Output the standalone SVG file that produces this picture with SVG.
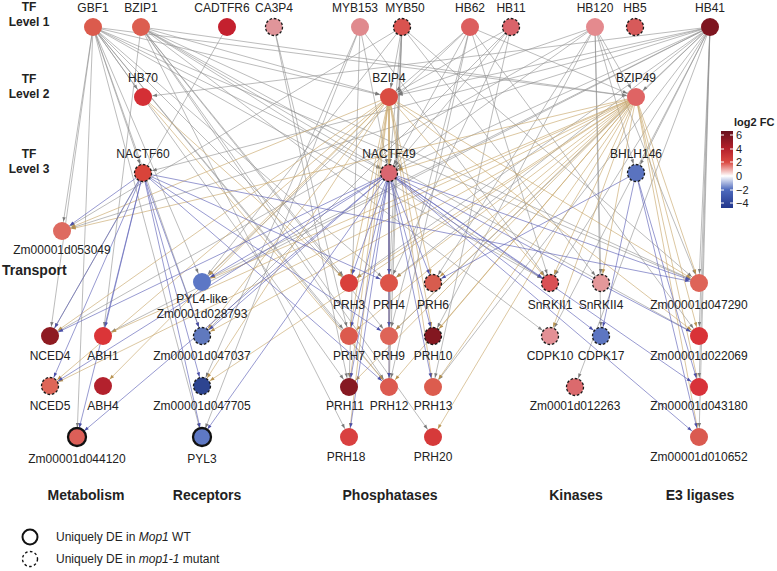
<svg xmlns="http://www.w3.org/2000/svg" width="777" height="571" viewBox="0 0 777 571">
<style>
text{font-family:"Liberation Sans",Arial,sans-serif;fill:#222}
.lb{font-size:12px;text-anchor:middle}
.grp{font-size:14px;font-weight:bold;text-anchor:middle}
.tf{font-size:12px;font-weight:bold;text-anchor:middle}
.g line{stroke:#8e8e8e;stroke-width:0.6;marker-end:url(#ag)}
.t line{stroke:#c9a86e;stroke-width:0.65;marker-end:url(#at)}
.b line{stroke:#6063b8;stroke-width:0.65;marker-end:url(#ab)}
.n{stroke:none}
.d{stroke:#1a1a1a;stroke-width:1.3;stroke-dasharray:2.6 1.8}
.s{stroke:#111;stroke-width:2.3}
</style>
<defs>
<marker id="ag" markerUnits="userSpaceOnUse" markerWidth="4.5" markerHeight="3.4" refX="14" refY="1.7" orient="auto" overflow="visible"><path d="M0,0L4.5,1.7L0,3.4z" fill="#7a7a7a"/></marker>
<marker id="at" markerUnits="userSpaceOnUse" markerWidth="4.5" markerHeight="3.4" refX="14" refY="1.7" orient="auto" overflow="visible"><path d="M0,0L4.5,1.7L0,3.4z" fill="#b8924f"/></marker>
<marker id="ab" markerUnits="userSpaceOnUse" markerWidth="4.5" markerHeight="3.4" refX="14" refY="1.7" orient="auto" overflow="visible"><path d="M0,0L4.5,1.7L0,3.4z" fill="#4a4fa8"/></marker>
<linearGradient id="cb" x1="0" y1="0" x2="0" y2="1">
<stop offset="0" stop-color="#67101c"/>
<stop offset="0.23" stop-color="#b5202a"/>
<stop offset="0.407" stop-color="#db4a42"/>
<stop offset="0.584" stop-color="#ffffff"/>
<stop offset="0.761" stop-color="#4f6bbe"/>
<stop offset="1" stop-color="#22368c"/>
</linearGradient>
</defs>
<rect width="777" height="571" fill="#fff"/>

<g id="connectors">
<g class="g">
<line x1="93" y1="27" x2="143" y2="97"/><line x1="93" y1="27" x2="143" y2="173"/><line x1="93" y1="27" x2="389" y2="97"/><line x1="93" y1="27" x2="389" y2="173"/><line x1="93" y1="27" x2="636" y2="97"/><line x1="93" y1="27" x2="62" y2="231"/><line x1="93" y1="27" x2="50" y2="336"/><line x1="93" y1="27" x2="202" y2="282"/><line x1="93" y1="27" x2="202" y2="336"/><line x1="93" y1="27" x2="202" y2="437"/><line x1="93" y1="27" x2="349" y2="283"/><line x1="93" y1="27" x2="349" y2="336"/><line x1="93" y1="27" x2="349" y2="387"/><line x1="93" y1="27" x2="389" y2="387"/><line x1="93" y1="27" x2="389" y2="283"/><line x1="93" y1="27" x2="550" y2="283"/><line x1="93" y1="27" x2="699" y2="283"/><line x1="93" y1="27" x2="77" y2="437"/>
<line x1="141" y1="27" x2="389" y2="97"/><line x1="141" y1="27" x2="636" y2="97"/><line x1="141" y1="27" x2="389" y2="173"/><line x1="141" y1="27" x2="103" y2="336"/><line x1="141" y1="27" x2="349" y2="283"/><line x1="141" y1="27" x2="389" y2="336"/><line x1="141" y1="27" x2="389" y2="387"/><line x1="141" y1="27" x2="349" y2="437"/><line x1="141" y1="27" x2="550" y2="283"/><line x1="141" y1="27" x2="550" y2="336"/><line x1="141" y1="27" x2="699" y2="283"/><line x1="141" y1="27" x2="699" y2="336"/><line x1="141" y1="27" x2="433" y2="437"/>
<line x1="227" y1="27" x2="50" y2="336"/>
<line x1="274" y1="27" x2="349" y2="336"/><line x1="274" y1="27" x2="349" y2="387"/>
<line x1="360" y1="27" x2="202" y2="437"/><line x1="360" y1="27" x2="202" y2="386"/><line x1="360" y1="27" x2="349" y2="387"/><line x1="360" y1="27" x2="389" y2="173"/><line x1="360" y1="27" x2="550" y2="283"/>
<line x1="402" y1="27" x2="389" y2="97"/><line x1="402" y1="27" x2="389" y2="173"/><line x1="402" y1="27" x2="389" y2="283"/><line x1="402" y1="27" x2="389" y2="336"/><line x1="402" y1="27" x2="389" y2="387"/><line x1="402" y1="27" x2="62" y2="231"/><line x1="402" y1="27" x2="202" y2="282"/><line x1="402" y1="27" x2="601" y2="283"/><line x1="402" y1="27" x2="699" y2="283"/>
<line x1="470" y1="27" x2="389" y2="97"/><line x1="470" y1="27" x2="389" y2="173"/><line x1="470" y1="27" x2="389" y2="336"/><line x1="470" y1="27" x2="389" y2="387"/><line x1="470" y1="27" x2="202" y2="282"/><line x1="470" y1="27" x2="636" y2="97"/><line x1="470" y1="27" x2="550" y2="283"/><line x1="470" y1="27" x2="699" y2="336"/>
<line x1="511" y1="27" x2="389" y2="97"/><line x1="511" y1="27" x2="389" y2="173"/><line x1="511" y1="27" x2="389" y2="283"/><line x1="511" y1="27" x2="433" y2="387"/><line x1="511" y1="27" x2="202" y2="336"/>
<line x1="595" y1="27" x2="636" y2="97"/><line x1="595" y1="27" x2="636" y2="173"/><line x1="595" y1="27" x2="601" y2="336"/><line x1="595" y1="27" x2="601" y2="283"/><line x1="595" y1="27" x2="389" y2="97"/><line x1="595" y1="27" x2="389" y2="173"/><line x1="595" y1="27" x2="433" y2="283"/><line x1="595" y1="27" x2="433" y2="336"/><line x1="595" y1="27" x2="699" y2="283"/><line x1="595" y1="27" x2="50" y2="336"/>
<line x1="710" y1="27" x2="636" y2="97"/><line x1="710" y1="27" x2="389" y2="97"/><line x1="710" y1="27" x2="389" y2="173"/><line x1="710" y1="27" x2="636" y2="173"/><line x1="710" y1="27" x2="699" y2="283"/><line x1="710" y1="27" x2="699" y2="336"/><line x1="710" y1="27" x2="699" y2="387"/><line x1="710" y1="27" x2="699" y2="437"/><line x1="710" y1="27" x2="143" y2="173"/><line x1="710" y1="27" x2="143" y2="97"/><line x1="710" y1="27" x2="62" y2="231"/><line x1="710" y1="27" x2="202" y2="282"/><line x1="710" y1="27" x2="349" y2="283"/><line x1="710" y1="27" x2="389" y2="283"/><line x1="710" y1="27" x2="389" y2="336"/><line x1="710" y1="27" x2="433" y2="387"/><line x1="710" y1="27" x2="550" y2="283"/><line x1="710" y1="27" x2="550" y2="336"/><line x1="710" y1="27" x2="575" y2="387"/><line x1="710" y1="27" x2="103" y2="336"/>
</g>
<g class="t">
<line x1="143" y1="97" x2="349" y2="283"/><line x1="143" y1="97" x2="389" y2="387"/>
<line x1="389" y1="97" x2="389" y2="173"/><line x1="389" y1="97" x2="62" y2="231"/><line x1="389" y1="97" x2="50" y2="336"/><line x1="389" y1="97" x2="50" y2="386"/><line x1="389" y1="97" x2="202" y2="282"/><line x1="389" y1="97" x2="202" y2="336"/><line x1="389" y1="97" x2="202" y2="386"/><line x1="389" y1="97" x2="349" y2="283"/><line x1="389" y1="97" x2="389" y2="283"/><line x1="389" y1="97" x2="433" y2="283"/><line x1="389" y1="97" x2="349" y2="336"/><line x1="389" y1="97" x2="389" y2="336"/><line x1="389" y1="97" x2="433" y2="336"/><line x1="389" y1="97" x2="349" y2="387"/><line x1="389" y1="97" x2="389" y2="387"/><line x1="389" y1="97" x2="433" y2="387"/><line x1="389" y1="97" x2="349" y2="437"/><line x1="389" y1="97" x2="550" y2="283"/><line x1="389" y1="97" x2="699" y2="283"/><line x1="389" y1="97" x2="699" y2="336"/><line x1="389" y1="97" x2="103" y2="386"/>
<line x1="636" y1="97" x2="389" y2="173"/><line x1="636" y1="97" x2="62" y2="231"/><line x1="636" y1="97" x2="202" y2="282"/><line x1="636" y1="97" x2="202" y2="336"/><line x1="636" y1="97" x2="202" y2="386"/><line x1="636" y1="97" x2="349" y2="283"/><line x1="636" y1="97" x2="389" y2="283"/><line x1="636" y1="97" x2="433" y2="283"/><line x1="636" y1="97" x2="349" y2="336"/><line x1="636" y1="97" x2="389" y2="336"/><line x1="636" y1="97" x2="433" y2="336"/><line x1="636" y1="97" x2="349" y2="387"/><line x1="636" y1="97" x2="389" y2="387"/><line x1="636" y1="97" x2="433" y2="387"/><line x1="636" y1="97" x2="433" y2="437"/><line x1="636" y1="97" x2="550" y2="283"/><line x1="636" y1="97" x2="601" y2="283"/><line x1="636" y1="97" x2="550" y2="336"/><line x1="636" y1="97" x2="699" y2="283"/><line x1="636" y1="97" x2="699" y2="336"/><line x1="636" y1="97" x2="699" y2="387"/><line x1="636" y1="97" x2="699" y2="437"/><line x1="636" y1="97" x2="50" y2="386"/><line x1="636" y1="97" x2="103" y2="336"/>
</g>
<g class="b">
<line x1="143" y1="173" x2="62" y2="231"/><line x1="143" y1="173" x2="50" y2="336"/><line x1="143" y1="173" x2="103" y2="336"/><line x1="143" y1="173" x2="50" y2="386"/><line x1="143" y1="173" x2="77" y2="437"/><line x1="143" y1="173" x2="202" y2="437"/><line x1="143" y1="173" x2="202" y2="336"/><line x1="143" y1="173" x2="389" y2="283"/><line x1="143" y1="173" x2="389" y2="336"/><line x1="143" y1="173" x2="699" y2="283"/><line x1="143" y1="173" x2="389" y2="387"/><line x1="143" y1="173" x2="202" y2="386"/>
<line x1="389" y1="173" x2="50" y2="336"/><line x1="389" y1="173" x2="50" y2="386"/><line x1="389" y1="173" x2="77" y2="437"/><line x1="389" y1="173" x2="202" y2="282"/><line x1="389" y1="173" x2="202" y2="336"/><line x1="389" y1="173" x2="202" y2="437"/><line x1="389" y1="173" x2="349" y2="283"/><line x1="389" y1="173" x2="389" y2="283"/><line x1="389" y1="173" x2="433" y2="283"/><line x1="389" y1="173" x2="349" y2="336"/><line x1="389" y1="173" x2="389" y2="336"/><line x1="389" y1="173" x2="433" y2="336"/><line x1="389" y1="173" x2="349" y2="387"/><line x1="389" y1="173" x2="389" y2="387"/><line x1="389" y1="173" x2="433" y2="387"/><line x1="389" y1="173" x2="349" y2="437"/><line x1="389" y1="173" x2="550" y2="283"/><line x1="389" y1="173" x2="601" y2="336"/><line x1="389" y1="173" x2="699" y2="283"/><line x1="389" y1="173" x2="699" y2="336"/><line x1="389" y1="173" x2="699" y2="387"/><line x1="389" y1="173" x2="699" y2="437"/>
<line x1="636" y1="173" x2="433" y2="283"/><line x1="636" y1="173" x2="699" y2="387"/><line x1="636" y1="173" x2="601" y2="336"/><line x1="636" y1="173" x2="699" y2="437"/>
</g>
</g>

<g id="row-labels">
<text class="tf" x="29" y="11">TF</text><text class="tf" x="29" y="26">Level 1</text>
<text class="tf" x="29" y="83">TF</text><text class="tf" x="29" y="98">Level 2</text>
<text class="tf" x="29" y="158">TF</text><text class="tf" x="29" y="173">Level 3</text>
</g>

<g id="nodes">
<g id="GBF1"><circle class="n" cx="93" cy="27" r="9" fill="#db5b4d"/><text class="lb" x="93" y="12">GBF1</text></g>
<g id="BZIP1"><circle class="n" cx="141" cy="27" r="9" fill="#dc5e50"/><text class="lb" x="141" y="12">BZIP1</text></g>
<g id="CADTFR6"><circle class="n" cx="227" cy="27" r="9" fill="#c4202e"/><text class="lb" x="222" y="12">CADTFR6</text></g>
<g id="CA3P4"><circle class="d" cx="274" cy="27" r="8.5" fill="#e0959a"/><text class="lb" x="274" y="12">CA3P4</text></g>
<g id="MYB153"><circle class="n" cx="360" cy="27" r="9" fill="#e08a8e"/><text class="lb" x="355" y="12">MYB153</text></g>
<g id="MYB50"><circle class="d" cx="402" cy="27" r="8.5" fill="#d9534f"/><text class="lb" x="405" y="12">MYB50</text></g>
<g id="HB62"><circle class="n" cx="470" cy="27" r="9" fill="#dc5e5e"/><text class="lb" x="470" y="12">HB62</text></g>
<g id="HB11"><circle class="d" cx="511" cy="27" r="8.5" fill="#d9636a"/><text class="lb" x="511" y="12">HB11</text></g>
<g id="HB120"><circle class="n" cx="595" cy="27" r="9" fill="#e48a8e"/><text class="lb" x="595" y="12">HB120</text></g>
<g id="HB5"><circle class="d" cx="635" cy="27" r="8.5" fill="#d75a5a"/><text class="lb" x="635" y="12">HB5</text></g>
<g id="HB41"><circle class="n" cx="710" cy="27" r="9" fill="#7e1520"/><text class="lb" x="710" y="12">HB41</text></g>

<g id="HB70"><circle class="n" cx="143" cy="97" r="9" fill="#d42f35"/><text class="lb" x="143" y="82">HB70</text></g>
<g id="BZIP4"><circle class="n" cx="389" cy="97" r="9" fill="#da4c42"/><text class="lb" x="389" y="82">BZIP4</text></g>
<g id="BZIP49"><circle class="n" cx="636" cy="97" r="9" fill="#df6464"/><text class="lb" x="636" y="82">BZIP49</text></g>

<g id="NACTF60"><circle class="d" cx="143" cy="173" r="8.5" fill="#d9443a"/><text class="lb" x="143" y="158">NACTF60</text></g>
<g id="NACTF49"><circle class="d" cx="389" cy="173" r="8.5" fill="#d96670"/><text class="lb" x="389" y="158">NACTF49</text></g>
<g id="BHLH146"><circle class="d" cx="636" cy="173" r="8.5" fill="#5a73bf"/><text class="lb" x="636" y="158">BHLH146</text></g>

<g id="Zm00001d053049"><circle class="n" cx="62" cy="231" r="9" fill="#de6a60"/><text class="lb" x="62" y="254">Zm00001d053049</text></g>
<g id="PYL4-like"><circle class="n" cx="202" cy="282" r="9" fill="#5c77c5"/><text class="lb" x="202" y="303">PYL4-like</text><text class="lb" x="202" y="318">Zm0001d028793</text></g>
<g id="NCED4"><circle class="n" cx="50" cy="336" r="9" fill="#8e1b22"/><text class="lb" x="50" y="360">NCED4</text></g>
<g id="ABH1"><circle class="n" cx="103" cy="336" r="9" fill="#db3538"/><text class="lb" x="103" y="360">ABH1</text></g>
<g id="Zm00001d047037"><circle class="d" cx="202" cy="336" r="8.5" fill="#6079be"/><text class="lb" x="202" y="360">Zm00001d047037</text></g>
<g id="NCED5"><circle class="d" cx="50" cy="386" r="8.5" fill="#de6658"/><text class="lb" x="50" y="410">NCED5</text></g>
<g id="ABH4"><circle class="n" cx="103" cy="386" r="9" fill="#b3212d"/><text class="lb" x="103" y="410">ABH4</text></g>
<g id="Zm00001d047705"><circle class="d" cx="202" cy="386" r="8.5" fill="#2d4490"/><text class="lb" x="202" y="410">Zm00001d047705</text></g>
<g id="Zm00001d044120"><circle class="s" cx="77" cy="437" r="9" fill="#dc5f58"/><text class="lb" x="77" y="463">Zm00001d044120</text></g>
<g id="PYL3"><circle class="s" cx="202" cy="437" r="9" fill="#5e78c4"/><text class="lb" x="202" y="463">PYL3</text></g>

<g id="PRH3"><circle class="n" cx="349" cy="283" r="9" fill="#d9403b"/><text class="lb" x="349" y="309">PRH3</text></g>
<g id="PRH4"><circle class="n" cx="389" cy="283" r="9" fill="#dc5448"/><text class="lb" x="389" y="309">PRH4</text></g>
<g id="PRH6"><circle class="d" cx="433" cy="283" r="8.5" fill="#d75c4e"/><text class="lb" x="433" y="309">PRH6</text></g>
<g id="PRH7"><circle class="n" cx="349" cy="336" r="9" fill="#dc5a4e"/><text class="lb" x="349" y="360">PRH7</text></g>
<g id="PRH9"><circle class="n" cx="389" cy="336" r="9" fill="#de6458"/><text class="lb" x="389" y="360">PRH9</text></g>
<g id="PRH10"><circle class="d" cx="433" cy="336" r="8.5" fill="#831720"/><text class="lb" x="433" y="360">PRH10</text></g>
<g id="PRH11"><circle class="n" cx="349" cy="387" r="9" fill="#861922"/><text class="lb" x="345" y="410">PRH11</text></g>
<g id="PRH12"><circle class="n" cx="389" cy="387" r="9" fill="#dc5a50"/><text class="lb" x="389" y="410">PRH12</text></g>
<g id="PRH13"><circle class="n" cx="433" cy="387" r="9" fill="#dc5c4e"/><text class="lb" x="433" y="410">PRH13</text></g>
<g id="PRH18"><circle class="n" cx="349" cy="437" r="9" fill="#d94040"/><text class="lb" x="346" y="461">PRH18</text></g>
<g id="PRH20"><circle class="n" cx="433" cy="437" r="9" fill="#d63a3a"/><text class="lb" x="433" y="461">PRH20</text></g>

<g id="SnRKII1"><circle class="d" cx="550" cy="283" r="8.5" fill="#d95054"/><text class="lb" x="550" y="309">SnRKII1</text></g>
<g id="SnRKII4"><circle class="d" cx="601" cy="283" r="8.5" fill="#e4989a"/><text class="lb" x="601" y="309">SnRKII4</text></g>
<g id="Zm00001d047290"><circle class="n" cx="699" cy="283" r="9" fill="#de6458"/><text class="lb" x="699" y="309">Zm00001d047290</text></g>
<g id="CDPK10"><circle class="d" cx="550" cy="336" r="8.5" fill="#e39095"/><text class="lb" x="550" y="360">CDPK10</text></g>
<g id="CDPK17"><circle class="d" cx="601" cy="336" r="8.5" fill="#5d76c2"/><text class="lb" x="601" y="360">CDPK17</text></g>
<g id="Zm00001d022069"><circle class="n" cx="699" cy="336" r="9" fill="#d93237"/><text class="lb" x="699" y="360">Zm00001d022069</text></g>
<g id="Zm0001d012263"><circle class="d" cx="575" cy="387" r="8.5" fill="#db6a6d"/><text class="lb" x="575" y="410">Zm0001d012263</text></g>
<g id="Zm00001d043180"><circle class="n" cx="699" cy="387" r="9" fill="#d8323a"/><text class="lb" x="699" y="410">Zm00001d043180</text></g>
<g id="Zm00001d010652"><circle class="n" cx="699" cy="437" r="9" fill="#da5a50"/><text class="lb" x="699" y="461">Zm00001d010652</text></g>
</g>

<g id="group-labels">
<text x="2" y="275" style="font-size:14px;font-weight:bold">Transport</text>
<text class="grp" x="86" y="500">Metabolism</text>
<text class="grp" x="207" y="500">Receptors</text>
<text class="grp" x="390" y="500">Phosphatases</text>
<text class="grp" x="576" y="500">Kinases</text>
<text class="grp" x="700" y="500">E3 ligases</text>
</g>

<g id="colorbar">
<text x="734" y="126" style="font-size:11px;font-weight:bold">log2 FC</text>
<rect x="721" y="131" width="12" height="77" fill="url(#cb)"/>
<g stroke="#fff" stroke-width="1">
<path d="M721,135h3M730,135h3M721,149h3M730,149h3M721,162h3M730,162h3M721,176h3M730,176h3M721,190h3M730,190h3M721,203h3M730,203h3"/>
</g>
<g style="font-size:11px">
<text x="736" y="139">6</text><text x="736" y="153">4</text><text x="736" y="166">2</text><text x="736" y="180">0</text><text x="736" y="194">−2</text><text x="736" y="207">−4</text>
</g>
</g>

<g id="legend">
<circle cx="30" cy="537" r="7.5" fill="none" stroke="#111" stroke-width="2"/>
<text x="56" y="541" style="font-size:12px">Uniquely DE in <tspan font-style="italic">Mop1</tspan> WT</text>
<circle cx="30" cy="559" r="7.5" fill="none" stroke="#111" stroke-width="1.4" stroke-dasharray="2.6 2.4"/>
<text x="56" y="563" style="font-size:12px">Uniquely DE in <tspan font-style="italic">mop1-1</tspan> mutant</text>
</g>
</svg>
